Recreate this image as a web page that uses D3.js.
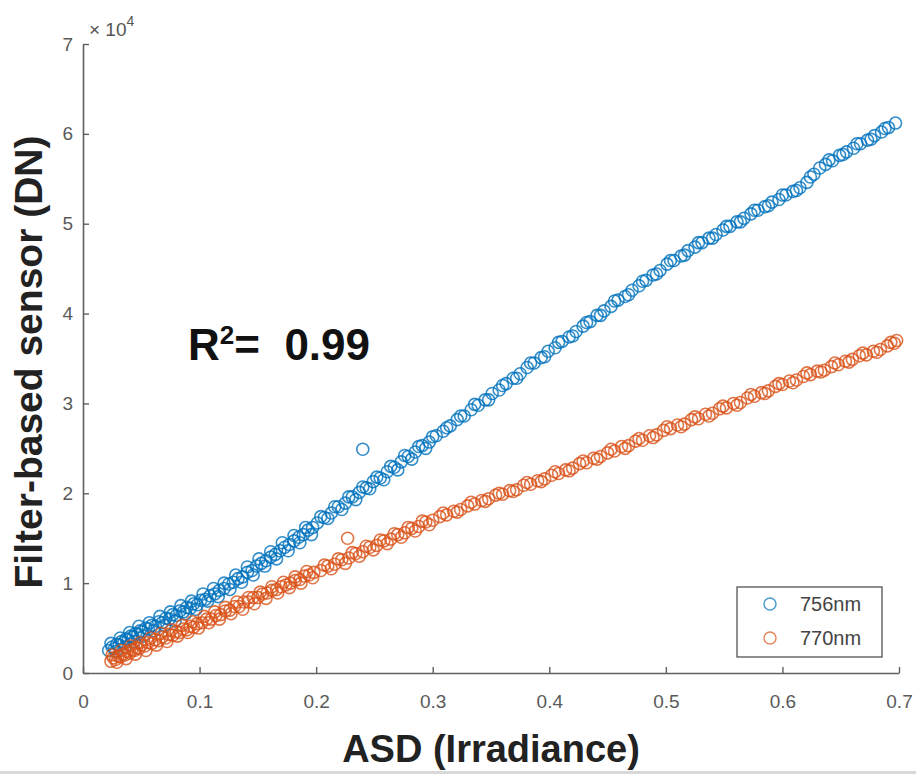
<!DOCTYPE html>
<html>
<head>
<meta charset="utf-8">
<script src="https://cdn.jsdelivr.net/npm/d3@7"></script>
<style>
  body { margin: 0; background: #fff; }
  svg { display: block; font-family: "Liberation Sans", Arial, sans-serif; }
</style>
</head>
<body>
<div id="plot"></div>
<script>
const w = 916;
const h = 774;
const margin = { left: 83, right: 17, top: 44, bottom: 101 };
const r = 6;

// ASD irradiance (x) and filter-based sensor DN in units of 1e4 (y)
const asd756 = [0.022, 0.025, 0.027, 0.029, 0.031, 0.033, 0.035, 0.037, 0.039, 0.041, 0.043, 0.045, 0.047, 0.049, 0.051, 0.054, 0.056, 0.059, 0.062, 0.065, 0.068, 0.071, 0.074, 0.077, 0.080, 0.083, 0.086, 0.089, 0.092, 0.095, 0.098, 0.101, 0.105, 0.109, 0.113, 0.117, 0.121, 0.125, 0.129, 0.133, 0.137, 0.141, 0.145, 0.149, 0.153, 0.157, 0.161, 0.165, 0.169, 0.173, 0.177, 0.181, 0.185, 0.189, 0.193, 0.197, 0.201, 0.207, 0.213, 0.219, 0.225, 0.231, 0.237, 0.243, 0.249, 0.255, 0.261, 0.267, 0.273, 0.279, 0.285, 0.291, 0.297, 0.303, 0.309, 0.315, 0.321, 0.327, 0.333, 0.339, 0.345, 0.351, 0.357, 0.363, 0.369, 0.375, 0.381, 0.387, 0.393, 0.399, 0.405, 0.411, 0.417, 0.423, 0.429, 0.435, 0.441, 0.447, 0.453, 0.459, 0.465, 0.471, 0.477, 0.483, 0.489, 0.495, 0.501, 0.507, 0.513, 0.519, 0.525, 0.531, 0.537, 0.543, 0.549, 0.555, 0.561, 0.567, 0.573, 0.579, 0.585, 0.591, 0.597, 0.603, 0.609, 0.615, 0.621, 0.627, 0.632, 0.637, 0.643, 0.649, 0.655, 0.661, 0.667, 0.673, 0.679, 0.685, 0.691, 0.697, 0.240,
  0.024, 0.028, 0.032, 0.036, 0.040, 0.044, 0.048, 0.052, 0.057, 0.061, 0.066, 0.070, 0.075, 0.079, 0.084, 0.088, 0.093, 0.097, 0.103, 0.107, 0.112, 0.116, 0.121, 0.126, 0.131, 0.136, 0.141, 0.146, 0.151, 0.156, 0.161, 0.166, 0.171, 0.176, 0.181, 0.186, 0.191, 0.196, 0.204, 0.210, 0.216, 0.222, 0.228, 0.234, 0.240, 0.246, 0.252, 0.258, 0.264, 0.270, 0.276, 0.282, 0.288, 0.294, 0.300, 0.312, 0.324, 0.336, 0.348, 0.360, 0.372, 0.384, 0.396, 0.408, 0.420, 0.432, 0.444, 0.456, 0.468, 0.480, 0.492, 0.504, 0.516, 0.528, 0.540, 0.552, 0.564, 0.576, 0.588, 0.600, 0.612, 0.624, 0.640, 0.652, 0.664, 0.676, 0.688];
const dn756 = [0.25, 0.29, 0.27, 0.32, 0.31, 0.35, 0.34, 0.38, 0.37, 0.41, 0.40, 0.44, 0.43, 0.47, 0.46, 0.50, 0.49, 0.53, 0.52, 0.57, 0.56, 0.61, 0.60, 0.65, 0.64, 0.69, 0.68, 0.73, 0.72, 0.77, 0.76, 0.81, 0.82, 0.86, 0.88, 0.92, 0.94, 0.99, 1.01, 1.05, 1.07, 1.12, 1.14, 1.19, 1.22, 1.25, 1.29, 1.32, 1.36, 1.40, 1.43, 1.47, 1.51, 1.54, 1.59, 1.62, 1.67, 1.73, 1.78, 1.85, 1.89, 1.96, 2.01, 2.06, 2.13, 2.17, 2.24, 2.29, 2.35, 2.41, 2.46, 2.53, 2.57, 2.64, 2.69, 2.75, 2.82, 2.86, 2.93, 2.98, 3.04, 3.11, 3.15, 3.22, 3.28, 3.33, 3.40, 3.45, 3.51, 3.58, 3.62, 3.69, 3.74, 3.80, 3.86, 3.91, 3.98, 4.03, 4.08, 4.15, 4.19, 4.26, 4.31, 4.37, 4.43, 4.48, 4.55, 4.59, 4.64, 4.70, 4.74, 4.79, 4.84, 4.88, 4.93, 4.97, 5.02, 5.06, 5.11, 5.15, 5.19, 5.24, 5.27, 5.32, 5.36, 5.40, 5.46, 5.55, 5.62, 5.66, 5.70, 5.76, 5.80, 5.84, 5.89, 5.93, 5.98, 6.02, 6.07, 6.12, 2.49,
  0.33, 0.24, 0.39, 0.29, 0.45, 0.35, 0.52, 0.41, 0.56, 0.47, 0.63, 0.53, 0.68, 0.58, 0.75, 0.66, 0.80, 0.71, 0.88, 0.80, 0.94, 0.85, 1.00, 0.93, 1.09, 1.01, 1.18, 1.09, 1.27, 1.19, 1.35, 1.27, 1.45, 1.36, 1.53, 1.45, 1.62, 1.54, 1.74, 1.72, 1.85, 1.82, 1.96, 1.93, 2.07, 2.05, 2.18, 2.15, 2.30, 2.26, 2.42, 2.38, 2.52, 2.50, 2.63, 2.73, 2.86, 2.99, 3.04, 3.20, 3.28, 3.45, 3.52, 3.68, 3.75, 3.90, 3.98, 4.14, 4.21, 4.36, 4.44, 4.59, 4.65, 4.79, 4.84, 4.97, 5.02, 5.15, 5.20, 5.32, 5.37, 5.52, 5.71, 5.77, 5.89, 5.94, 6.06];

const asd770 = [0.024, 0.026, 0.028, 0.030, 0.032, 0.034, 0.036, 0.038, 0.040, 0.042, 0.044, 0.046, 0.048, 0.050, 0.053, 0.056, 0.059, 0.062, 0.065, 0.068, 0.071, 0.074, 0.077, 0.080, 0.083, 0.086, 0.089, 0.092, 0.095, 0.098, 0.102, 0.106, 0.110, 0.114, 0.118, 0.122, 0.126, 0.130, 0.134, 0.138, 0.142, 0.146, 0.150, 0.154, 0.158, 0.162, 0.166, 0.170, 0.174, 0.178, 0.182, 0.186, 0.190, 0.194, 0.198, 0.204, 0.210, 0.216, 0.222, 0.228, 0.234, 0.240, 0.246, 0.252, 0.258, 0.264, 0.270, 0.276, 0.282, 0.288, 0.294, 0.300, 0.306, 0.312, 0.318, 0.324, 0.330, 0.336, 0.342, 0.348, 0.354, 0.360, 0.366, 0.372, 0.378, 0.384, 0.390, 0.396, 0.402, 0.408, 0.414, 0.420, 0.426, 0.432, 0.438, 0.444, 0.450, 0.456, 0.462, 0.468, 0.474, 0.480, 0.486, 0.492, 0.498, 0.504, 0.510, 0.516, 0.522, 0.528, 0.534, 0.540, 0.546, 0.552, 0.558, 0.564, 0.570, 0.576, 0.582, 0.588, 0.594, 0.600, 0.606, 0.612, 0.618, 0.624, 0.630, 0.636, 0.642, 0.648, 0.654, 0.660, 0.666, 0.672, 0.678, 0.684, 0.690, 0.696, 0.698, 0.227,
  0.025, 0.029, 0.033, 0.037, 0.041, 0.045, 0.049, 0.054, 0.058, 0.063, 0.067, 0.072, 0.076, 0.081, 0.085, 0.090, 0.094, 0.099, 0.104, 0.108, 0.113, 0.117, 0.122, 0.127, 0.132, 0.137, 0.142, 0.147, 0.152, 0.157, 0.162, 0.167, 0.172, 0.177, 0.182, 0.187, 0.192, 0.197, 0.207, 0.213, 0.219, 0.225, 0.231, 0.237, 0.243, 0.249, 0.255, 0.261, 0.267, 0.273, 0.279, 0.285, 0.291, 0.297, 0.309, 0.321, 0.333, 0.345, 0.357, 0.369, 0.381, 0.393, 0.405, 0.417, 0.429, 0.441, 0.453, 0.465, 0.477, 0.489, 0.501, 0.513, 0.525, 0.537, 0.549, 0.561, 0.573, 0.585, 0.597, 0.609, 0.621, 0.633, 0.645, 0.657, 0.669, 0.681, 0.693];
const dn770 = [0.13, 0.17, 0.15, 0.19, 0.18, 0.21, 0.20, 0.24, 0.22, 0.26, 0.25, 0.28, 0.27, 0.31, 0.30, 0.34, 0.33, 0.37, 0.36, 0.40, 0.39, 0.43, 0.42, 0.46, 0.45, 0.49, 0.48, 0.52, 0.51, 0.55, 0.56, 0.60, 0.60, 0.64, 0.65, 0.69, 0.70, 0.74, 0.74, 0.79, 0.79, 0.84, 0.84, 0.88, 0.89, 0.92, 0.93, 0.96, 0.98, 1.00, 1.03, 1.04, 1.08, 1.09, 1.12, 1.14, 1.19, 1.21, 1.26, 1.28, 1.33, 1.35, 1.40, 1.42, 1.47, 1.49, 1.54, 1.56, 1.61, 1.63, 1.68, 1.70, 1.74, 1.76, 1.80, 1.82, 1.86, 1.88, 1.92, 1.94, 1.98, 1.99, 2.03, 2.04, 2.09, 2.10, 2.14, 2.16, 2.20, 2.22, 2.26, 2.28, 2.33, 2.34, 2.39, 2.41, 2.45, 2.47, 2.52, 2.53, 2.58, 2.59, 2.64, 2.65, 2.70, 2.72, 2.76, 2.77, 2.82, 2.83, 2.88, 2.89, 2.94, 2.95, 3.00, 3.01, 3.06, 3.08, 3.12, 3.14, 3.19, 3.21, 3.25, 3.26, 3.30, 3.32, 3.36, 3.37, 3.41, 3.43, 3.47, 3.49, 3.53, 3.54, 3.58, 3.60, 3.64, 3.67, 3.70, 1.50,
  0.20, 0.12, 0.25, 0.16, 0.30, 0.21, 0.34, 0.25, 0.39, 0.31, 0.44, 0.35, 0.48, 0.41, 0.53, 0.45, 0.57, 0.50, 0.63, 0.56, 0.68, 0.60, 0.73, 0.66, 0.79, 0.71, 0.84, 0.77, 0.90, 0.83, 0.96, 0.89, 1.01, 0.95, 1.07, 1.00, 1.13, 1.06, 1.20, 1.16, 1.27, 1.22, 1.34, 1.30, 1.41, 1.37, 1.48, 1.44, 1.55, 1.51, 1.62, 1.58, 1.69, 1.65, 1.78, 1.79, 1.90, 1.91, 2.00, 2.02, 2.12, 2.13, 2.24, 2.25, 2.36, 2.38, 2.49, 2.50, 2.61, 2.62, 2.74, 2.74, 2.85, 2.86, 2.97, 2.98, 3.10, 3.11, 3.22, 3.23, 3.34, 3.35, 3.45, 3.46, 3.56, 3.57, 3.68];

const xTicks = [0, 0.1, 0.2, 0.3, 0.4, 0.5, 0.6, 0.7];
const yTicks = [0, 1, 2, 3, 4, 5, 6, 7];
const seriesNames = ["756nm", "770nm"];
const seriesColors = ["#0072BD", "#D95319"];

const xScale = d3.scaleLinear().
domain([0, 0.7]).
range([margin.left, w - margin.right]);

const yScale = d3.scaleLinear().
domain([0, 7]).
range([h - margin.bottom, margin.top]);

const svg = d3.select("#plot").
append("svg").
attr("width", w).
attr("height", h);

// axes, ticks pointing inward like matlab
const xAxis = d3.axisBottom(xScale).
tickValues(xTicks).
tickFormat(d => d === 0 ? "0" : d3.format(".1f")(d)).
tickSize(-6).
tickSizeOuter(0).
tickPadding(22);

const yAxis = d3.axisLeft(yScale).
tickValues(yTicks).
tickFormat(d3.format("d")).
tickSize(-6).
tickSizeOuter(0).
tickPadding(10);

const gx = svg.append("g").
attr("transform", "translate(0," + (h - margin.bottom) + ")").
call(xAxis);

const gy = svg.append("g").
attr("transform", "translate(" + margin.left + ",0)").
call(yAxis);

[gx, gy].forEach(g => {
  g.select(".domain").attr("stroke", "#5f5f5f").attr("stroke-width", 1.6);
  g.selectAll(".tick line").attr("stroke", "#5f5f5f").attr("stroke-width", 1.4);
  g.selectAll(".tick text").
  attr("fill", "#5a5a5a").
  style("font-size", "19px").
  style("font-family", "'Liberation Sans', Arial, sans-serif");
});

// exponent label
const expo = svg.append("text").
attr("x", 89).
attr("y", 36).
attr("fill", "#555").
style("font-size", "19px");
expo.append("tspan").text("\u00d7 10");
expo.append("tspan").attr("dy", -10).style("font-size", "14px").text("4");

// scatter
const series = [
  { name: seriesNames[0], x: asd756, y: dn756, color: seriesColors[0] },
  { name: seriesNames[1], x: asd770, y: dn770, color: seriesColors[1] }];


series.forEach(s => {
  svg.append("g").
  selectAll("circle").
  data(s.x.map((d, i) => [d, s.y[i]])).
  enter().
  append("circle").
  attr("cx", d => xScale(d[0])).
  attr("cy", d => yScale(d[1])).
  attr("r", r).
  attr("fill", "none").
  attr("stroke", s.color).
  attr("stroke-width", 1.6).
  attr("stroke-opacity", 0.8);
});

// R squared annotation
const rs = svg.append("text").
attr("x", 188).
attr("y", 360).
attr("fill", "#111").
style("font-size", "44px").
style("font-weight", "bold");
rs.append("tspan").text("R");
rs.append("tspan").attr("dy", -16).style("font-size", "26px").text("2");
rs.append("tspan").attr("dy", 16).text("= \u00a00.99");

// legend
const legend = svg.append("g").attr("id", "legend");
legend.append("rect").
attr("x", 737).
attr("y", 587).
attr("width", 145).
attr("height", 70).
attr("fill", "#fff").
attr("stroke", "#444").
attr("stroke-width", 1.2);

legend.selectAll("circle").
data(series).
enter().
append("circle").
attr("cx", 770).
attr("cy", (d, i) => 604 + i * 34).
attr("r", 6).
attr("fill", "none").
attr("stroke", d => d.color).
attr("stroke-width", 1.5).
attr("stroke-opacity", 0.7);

legend.selectAll("text").
data(series).
enter().
append("text").
attr("x", 800).
attr("y", (d, i) => 604 + i * 34).
attr("dy", "0.35em").
attr("fill", "#444").
style("font-size", "20px").
text(d => d.name);

// axis titles
svg.append("text").
attr("x", (xScale(0) + xScale(0.7)) / 2).
attr("y", 762).
attr("text-anchor", "middle").
attr("fill", "#222").
style("font-size", "38px").
style("font-weight", "bold").
text("ASD (Irradiance)");

svg.append("text").
attr("transform", "translate(42," + 362 + ") rotate(-90)").
attr("text-anchor", "middle").
attr("fill", "#222").
style("font-size", "39px").
style("font-weight", "bold").
text("Filter-based sensor (DN)");

// thin grey strip along the bottom edge of the original screenshot
svg.append("rect").
attr("x", 0).
attr("y", h - 3).
attr("width", w).
attr("height", 3).
attr("fill", "#d8d8d8");
</script>
</body>
</html>
